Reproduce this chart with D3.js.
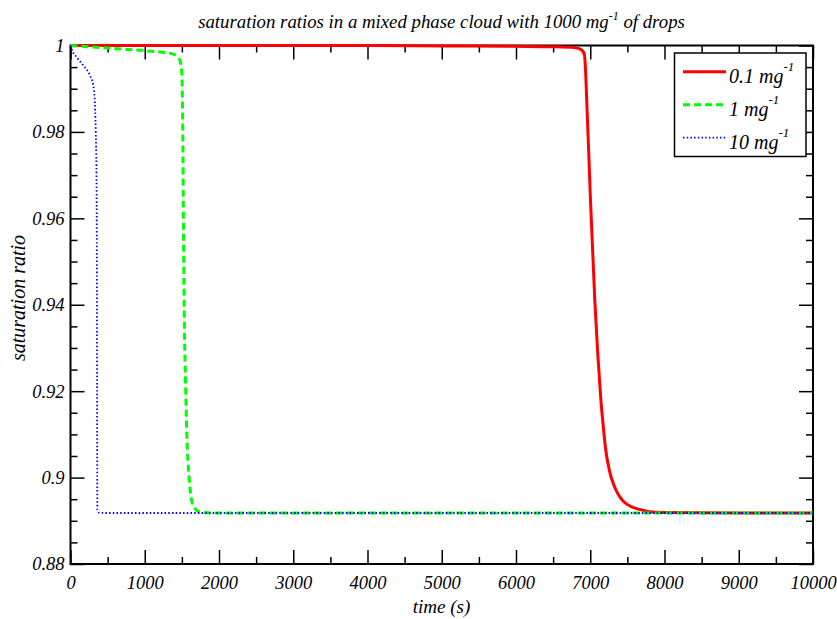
<!DOCTYPE html>
<html>
<head>
<meta charset="utf-8">
<script src="https://cdn.jsdelivr.net/npm/d3@7"></script>
<style>
  body { margin: 0; background: #fff; }
  text { font-family: "Liberation Serif", "Times New Roman", serif; font-style: italic; fill: #000; }
</style>
</head>
<body>
<div id="chart"></div>
<script>
// series: time (s) and saturation ratio
var tRed = [0, 1000, 2000, 3000, 4000, 5000, 6000, 6500, 6800, 6880, 6920, 6936, 6952, 6978, 7003, 7061, 7098, 7142, 7180, 7208, 7260, 7324, 7380, 7445, 7560, 7670, 7800, 8000, 9000, 10000];
var sRed = [1.0, 1.0, 1.0, 1.0, 1.0, 0.9999, 0.9998, 0.9997, 0.9995, 0.9990, 0.9980, 0.9945, 0.9875, 0.9759, 0.9643, 0.9411, 0.9295, 0.9182, 0.9110, 0.9065, 0.9015, 0.8980, 0.8960, 0.8945, 0.8932, 0.8926, 0.8921, 0.8919, 0.8918, 0.8918];

var tGreen = [0, 250, 500, 750, 1000, 1200, 1385, 1450, 1475, 1500, 1512, 1522, 1535, 1550, 1565, 1600, 1632, 1665, 1700, 1750, 1800, 2000, 4000, 6000, 8000, 10000];
var sGreen = [1.0, 0.9997, 0.9994, 0.9991, 0.9988, 0.9985, 0.9980, 0.9972, 0.9965, 0.9935, 0.9800, 0.9570, 0.9340, 0.9220, 0.9110, 0.8994, 0.8947, 0.8932, 0.8924, 0.8920, 0.8919, 0.8918, 0.8918, 0.8918, 0.8918, 0.8918];

var tBlue = [0, 16, 83, 172, 262, 307, 325, 340, 350, 355, 358, 360, 362, 380, 500, 2000, 5000, 10000];
var sBlue = [1.0, 0.9991, 0.9973, 0.9954, 0.9931, 0.9908, 0.9880, 0.9800, 0.9700, 0.9500, 0.9200, 0.9000, 0.8925, 0.8919, 0.8918, 0.8918, 0.8918, 0.8918];

var seriesNames = ["0.1 mg", "1 mg", "10 mg"];
var seriesColors = ["#ff0000", "#00ff00", "#0000ff"];

var xMajor = [0, 1000, 2000, 3000, 4000, 5000, 6000, 7000, 8000, 9000, 10000];
var xMinor = [500, 1500, 2500, 3500, 4500, 5500, 6500, 7500, 8500, 9500];
var yMajor = [0.88, 0.9, 0.92, 0.94, 0.96, 0.98, 1];
var yMinor = [0.885, 0.89, 0.895, 0.905, 0.91, 0.915, 0.925, 0.93, 0.935, 0.945, 0.95, 0.955, 0.965, 0.97, 0.975, 0.985, 0.99, 0.995];

var W = 837, H = 619;
var margin = { top: 45.5, right: 24, bottom: 55, left: 70.5 },
    width = W - margin.left - margin.right,
    height = H - margin.top - margin.bottom;

var svg = d3.select("#chart").append("svg")
    .attr("width", W)
    .attr("height", H);

var g = svg.append("g")
    .attr("transform", "translate(" + margin.left + "," + margin.top + ")");

var x = d3.scaleLinear().domain([0, 10000]).range([0, width]);
var y = d3.scaleLinear().domain([0.88, 1]).range([height, 0]);

function fmtY(d) { return String(+d.toFixed(2)); }

// ticks on all four sides, pointing inward
g.append("g").attr("class", "ax")
  .attr("transform", "translate(0," + height + ")")
  .call(d3.axisBottom(x).tickValues(xMajor).tickSize(-14).tickPadding(12).tickFormat(d3.format("d")));
g.append("g").attr("class", "ax")
  .attr("transform", "translate(0," + height + ")")
  .call(d3.axisBottom(x).tickValues(xMinor).tickSize(-7).tickFormat(""));
g.append("g").attr("class", "ax")
  .call(d3.axisTop(x).tickValues(xMajor).tickSize(-14).tickFormat(""));
g.append("g").attr("class", "ax")
  .call(d3.axisTop(x).tickValues(xMinor).tickSize(-7).tickFormat(""));

g.append("g").attr("class", "ax")
  .call(d3.axisLeft(y).tickValues(yMajor).tickSize(-14).tickPadding(6).tickFormat(fmtY));
g.append("g").attr("class", "ax")
  .call(d3.axisLeft(y).tickValues(yMinor).tickSize(-7).tickFormat(""));
g.append("g").attr("class", "ax")
  .attr("transform", "translate(" + width + ",0)")
  .call(d3.axisRight(y).tickValues(yMajor).tickSize(-14).tickFormat(""));
g.append("g").attr("class", "ax")
  .attr("transform", "translate(" + width + ",0)")
  .call(d3.axisRight(y).tickValues(yMinor).tickSize(-7).tickFormat(""));

g.selectAll(".ax .domain").remove();
g.selectAll(".ax line").attr("stroke", "#000").attr("stroke-width", 1.5);
g.selectAll(".ax text")
  .style("font-family", '"Liberation Serif", serif')
  .style("font-style", "italic")
  .style("font-size", "18.5px")
  .attr("fill", "#000");

// frame
g.append("rect")
  .attr("x", 0).attr("y", 0)
  .attr("width", width).attr("height", height)
  .attr("fill", "none")
  .attr("stroke", "#000")
  .attr("stroke-width", 2);

// lines
var line = d3.line()
  .x(function(d) { return x(d[0]); })
  .y(function(d) { return y(d[1]); })
  .curve(d3.curveMonotoneX);

var series = [
  { t: tRed, s: sRed, dash: null, w: 3 },
  { t: tGreen, s: sGreen, dash: "7,4", w: 3 },
  { t: tBlue, s: sBlue, dash: "1.5,2.2", w: 1.8 }
];

series.forEach(function(sr, i) {
  g.append("path")
    .datum(d3.zip(sr.t, sr.s))
    .attr("fill", "none")
    .attr("stroke", seriesColors[i])
    .attr("stroke-width", sr.w)
    .attr("stroke-dasharray", sr.dash)
    .attr("d", line);
});

// legend
var lg = svg.append("g");
lg.append("rect")
  .attr("x", 674.5).attr("y", 53)
  .attr("width", 131.5).attr("height", 103.5)
  .attr("fill", "#fff")
  .attr("stroke", "#000")
  .attr("stroke-width", 1.5);

series.forEach(function(sr, i) {
  var yy = 71.7 + i * 33;
  lg.append("line")
    .attr("x1", 683).attr("x2", 726)
    .attr("y1", yy).attr("y2", yy)
    .attr("stroke", seriesColors[i])
    .attr("stroke-width", sr.w)
    .attr("stroke-dasharray", sr.dash);
  var tx = lg.append("text")
    .attr("x", 729).attr("y", yy + 11.6)
    .style("font-size", "20px");
  tx.append("tspan").text(seriesNames[i]);
  tx.append("tspan").attr("dy", -12.5).style("font-size", "13px").text("-1");
});

// title
var title = svg.append("text")
  .attr("x", 441.5).attr("y", 28)
  .attr("text-anchor", "middle")
  .style("font-size", "18.8px");
title.append("tspan").text("saturation ratios in a mixed phase cloud with 1000 mg");
title.append("tspan").attr("dy", -8).style("font-size", "12px").text("-1");
title.append("tspan").attr("dy", 8).text(" of drops");

// axis titles
svg.append("text")
  .attr("x", 441.5).attr("y", 613)
  .attr("text-anchor", "middle")
  .style("font-size", "19px")
  .text("time (s)");

svg.append("text")
  .attr("transform", "translate(25,298) rotate(-90)")
  .attr("text-anchor", "middle")
  .style("font-size", "20px")
  .text("saturation ratio");
</script>
</body>
</html>
